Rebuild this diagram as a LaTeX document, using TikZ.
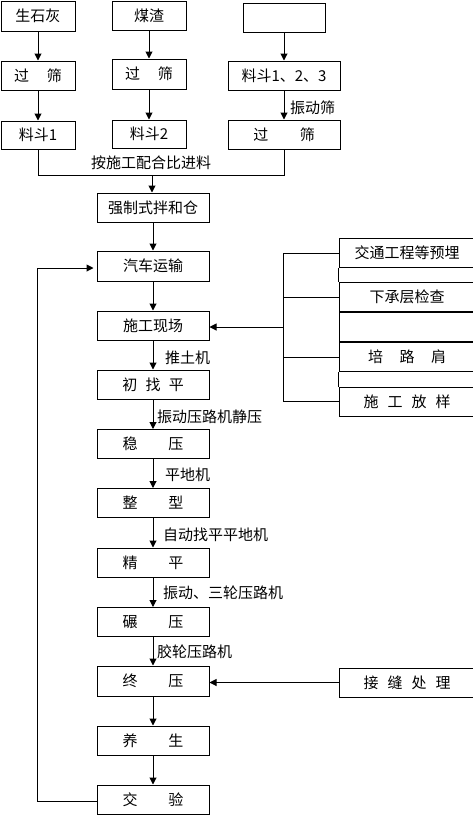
\documentclass[tikz,border=0pt]{standalone}
\usepackage{fontspec}
\setmainfont{Noto Sans CJK SC}
\usetikzlibrary{arrows.meta}
\begin{document}
\begin{tikzpicture}[x=1pt,y=-1pt,
 box/.style={draw,line width=1pt,minimum width=112pt,minimum height=29pt,inner sep=0pt,font=\fontsize{15}{18}\selectfont},
 sbox/.style={box,minimum width=74pt},
 rbox/.style={box,minimum width=136pt},
 lbl/.style={anchor=west,inner sep=0pt,font=\fontsize{15}{18}\selectfont},
 arr/.style={line width=1pt,-{Triangle[width=7pt,length=7pt]}},
 ln/.style={line width=1pt}]
\useasboundingbox (0,0) rectangle (472,815);
% top-left column
\node[sbox,minimum height=30pt] (A1) at (38,16) {生石灰};
\node[sbox] (A2) at (38,75.5) {过\hspace{1.2em}筛};
\node[sbox,minimum height=28pt] (A3) at (38,135) {料斗1};
% second column
\node[sbox] (B1) at (149,15.5) {煤渣\hspace{18pt}};
\node[sbox,minimum height=30pt] (B2) at (149,74) {过\hspace{1.2em}筛};
\node[sbox,minimum height=28pt] (B3) at (149,134) {料斗2};
% third column
\node[box,minimum width=82pt] (C1) at (284,17.5) {};
\node[box] (C2) at (284,75.5) {料斗1、2、3};
\node[box] (C3) at (284,134.5) {过\hspace{2.1em}筛};
\draw[arr] (A1) -- (A2);
\draw[arr] (A2) -- (A3);
\draw[arr] (B1) -- (B2);
\draw[arr] (B2) -- (B3);
\draw[arr] (C1) -- (C2);
\draw[arr] (C2) -- (C3);
\node[lbl] (L0) at (290,108) {振动筛};
% merge
\coordinate (J1) at (38,175);
\coordinate (J2) at (284,175);
\coordinate (J3) at (152,175);
\draw[ln] (A3.south) -- (J1) -- (J2) -- (C3.south);
\node[font=\fontsize{15}{18}\selectfont,inner sep=0pt] (L1) at (151,163) {按施工配合比进料};
% main column
\node[box] (M1) at (153,207.5) {强制式拌和仓};
\node[box,minimum height=30pt] (M2) at (153,266) {汽车运输};
\node[box] (M3) at (153,325.5) {施工现场};
\node[box] (M4) at (153,384.5) {初\hspace{0.55em}找\hspace{0.55em}平};
\node[box] (M5) at (153,444) {稳\hspace{2.05em}压};
\node[box] (M6) at (153,503) {整\hspace{2.05em}型};
\node[box] (M7) at (153,562.5) {精\hspace{2.05em}平};
\node[box] (M8) at (153,622) {碾\hspace{2.05em}压};
\node[box,minimum height=30pt] (M9) at (153,681) {终\hspace{2.05em}压};
\node[box] (M10) at (153,740.5) {养\hspace{2.05em}生};
\node[box] (M11) at (153,799.5) {交\hspace{2.05em}验};
\draw[arr] (J3) -- (M1.north -| J3);
\draw[arr] (M1) -- (M2);
\draw[arr] (M2) -- (M3);
\draw[arr] (M3) -- (M4);
\draw[arr] (M4) -- (M5);
\draw[arr] (M5) -- (M6);
\draw[arr] (M6) -- (M7);
\draw[arr] (M7) -- (M8);
\draw[arr] (M8) -- (M9);
\draw[arr] (M9) -- (M10);
\draw[arr] (M10) -- (M11);
\node[lbl] (L2) at (165,358) {推土机};
\node[lbl] (L3) at (157,417) {振动压路机静压};
\node[lbl] (L4) at (165,475) {平地机};
\node[lbl] (L5) at (163,535) {自动找平平地机};
\node[lbl] (L6) at (163,593) {振动、三轮压路机};
\node[lbl] (L7) at (157,652) {胶轮压路机};
% loop back
\coordinate (K1) at (37,801);
\coordinate (K2) at (37,268);
\draw[arr,shorten >=3pt] (M11.west |- K1) -- (K1) -- (K2) -- (M2.west |- K2);
% right group
\node[rbox] (R1) at (407,253) {交通工程等预埋};
\node[rbox] (R2) at (407,297) {下承层检查};
\node[rbox] (R3) at (407,327) {};
\node[rbox] (R4) at (407,357) {培\hspace{1.1em}路\hspace{1.1em}肩};
\node[rbox] (R5) at (407,401.5) {施\hspace{0.6em}工\hspace{0.6em}放\hspace{0.6em}样};
\draw[ln] (R1.south west) -- (R2.north west);
\draw[ln] (R4.south west) -- (R5.north west);
\coordinate (V1) at (283,253);
\coordinate (V2) at (283,401.5);
\coordinate (V3) at (283,327);
\draw[ln] (V1) -- (V2);
\draw[ln] (V1) -- (R1.west);
\draw[ln] (V1 |- R2.west) -- (R2.west);
\draw[ln] (V1 |- R4.west) -- (R4.west);
\draw[ln] (V2) -- (R5.west);
\draw[arr] (V3) -- (M3.east |- V3);
\node[rbox] (JF) at (407,682.5) {接\hspace{0.6em}缝\hspace{0.6em}处\hspace{0.6em}理};
\draw[arr] (JF.west) -- (M9.east |- JF.west);
\end{tikzpicture}
\end{document}
